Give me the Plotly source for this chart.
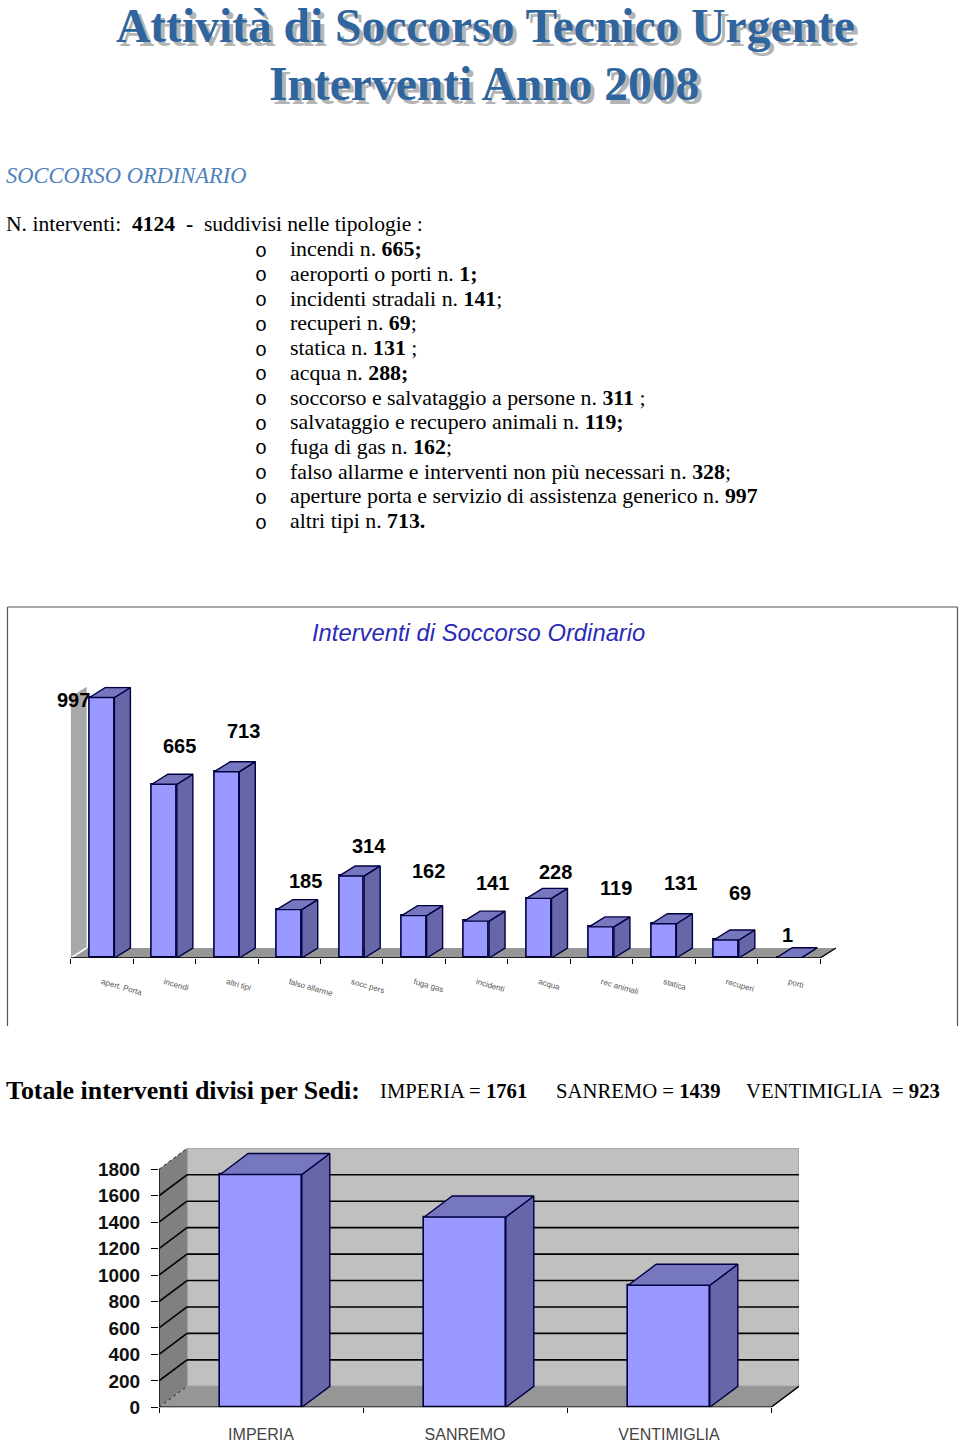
import plotly.graph_objects as go

# ---------- data ----------
title_lines = ["Attività di Soccorso Tecnico Urgente", "Interventi Anno 2008"]
section_title = "SOCCORSO ORDINARIO"
intro_line = "N. interventi:  <b>4124  -</b>  suddivisi nelle tipologie :"
list_items = [
    "incendi n. <b>665;</b>",
    "aeroporti o porti n. <b>1;</b>",
    "incidenti stradali n. <b>141</b>;",
    "recuperi n. <b>69</b>;",
    "statica n. <b>131</b> ;",
    "acqua n. <b>288;</b>",
    "soccorso e salvataggio a persone n. <b>311</b> ;",
    "salvataggio e recupero animali n. <b>119;</b>",
    "fuga di gas n. <b>162</b>;",
    "falso allarme e interventi non più necessari n. <b>328</b>;",
    "aperture porta e servizio di assistenza generico n. <b>997</b>",
    "altri tipi n. <b>713.</b>",
]
chart1_title = "Interventi di Soccorso Ordinario"
types = ["apert. Porta", "incendi", "altri tipi", "falso allarme", "socc pers", "fuga gas",
         "incidenti", "acqua", "rec animali", "statica", "recuperi", "porti"]
type_values = [997, 665, 713, 185, 314, 162, 141, 228, 119, 131, 69, 1]
totals_heading = "Totale interventi divisi per Sedi:"
totals_texts = ["IMPERIA = <b>1761</b>", "SANREMO = <b>1439</b>", "VENTIMIGLIA  = <b>923</b>"]
sedi = ["IMPERIA", "SANREMO", "VENTIMIGLIA"]
sedi_values = [1761, 1439, 923]
sedi_ticks = [0, 200, 400, 600, 800, 1000, 1200, 1400, 1600, 1800]

# ---------- layout helpers (pixel geometry of the page) ----------
W, H = 960, 1442
SERIF = "Liberation Serif"
FRONT, SIDE, TOP, EDGE = "#9999ff", "#6666a8", "#7777c0", "#000040"
fx = lambda p: p / W
fy = lambda p: 1 - p / H

label_dx = [-28, 15, 17, 16, 17, 14, 16, 16, 15, 17, 14, -1]
label_dy = [-3, 38, 41, 29, 30, 45, 38, 26, 39, 41, 47, 23]


def poly_path(pts):
    return "M " + " L ".join(f"{x} {y}" for x, y in pts) + " Z"


def faces(vals, w, dx, dy):
    sx, sy, tx, ty = [], [], [], []
    for i, v in enumerate(vals):
        r, l = i + w / 2, i - w / 2
        sx += [r, r + dx, r + dx, r, r, None]
        sy += [0, dy, v + dy, v, 0, None]
        tx += [l, r, r + dx, l + dx, l, None]
        ty += [v, v, v + dy, v + dy, v, None]
    return sx, sy, tx, ty


fig = go.Figure()
shapes, annos = [], []


def text(x, y, s, size, color="black", family=SERIF, anchor="left", **fontkw):
    annos.append(dict(xref="paper", yref="paper", x=fx(x - 2 if anchor == "left" else x), y=fy(y), text=s,
                      showarrow=False, xanchor=anchor, yanchor="middle", align=anchor,
                      font=dict(family=family, size=size, color=color, **fontkw)))


# ---------- document text ----------
text(485.5, 26, f"<b>{title_lines[0]}</b>", 47.5, "#2f659f", anchor="center", shadow="4px 4px 0 #b4b4b4")
text(484.5, 84, f"<b>{title_lines[1]}</b>", 47.5, "#2f659f", anchor="center", shadow="4px 4px 0 #b4b4b4")
text(6, 176, f"<i>{section_title}</i>", 22.5, "#4f81bd")
text(6, 224, intro_line, 21.6)
for k, item in enumerate(list_items):
    y = 249 + k * 24.75
    text(255, y + 2, "o", 20, family="Liberation Mono")
    text(290, y, item, 21.85)
text(6, 1090, f"<b>{totals_heading}</b>", 25.9)
for x, s in zip([380, 556, 746], totals_texts):
    text(x, 1091, s, 20.7)

# ---------- chart 1 ----------
W1, DX1, DY1 = 0.4, 16 / 62.44, 10 / 0.2613
WALL1 = 1000
n1 = len(types)
L1, R1 = -0.5, n1 - 0.5
fig.add_trace(go.Bar(x=list(range(n1)), y=type_values, width=W1, xaxis="x", yaxis="y", cliponaxis=False,
                     marker=dict(color=FRONT, line=dict(color=EDGE, width=1.6)), showlegend=False))
sx, sy, tx, ty = faces(type_values, W1, DX1, DY1)
for xs, ys, col in ((sx, sy, SIDE), (tx, ty, TOP)):
    fig.add_trace(go.Scatter(x=xs, y=ys, xaxis="x", yaxis="y", mode="lines", fill="toself", fillcolor=col,
                             line=dict(color=EDGE, width=1.4), showlegend=False, cliponaxis=False))
fig.add_trace(go.Scatter(x=[L1, R1, R1 + DX1], y=[0, 0, DY1], xaxis="x", yaxis="y", mode="lines",
                         line=dict(color="black", width=1.4), showlegend=False, cliponaxis=False))
shapes += [
    dict(type="path", xref="x", yref="y", layer="below", line=dict(width=0), fillcolor="#969696",
         path=poly_path([(L1, 0), (R1, 0), (R1 + DX1, DY1), (L1 + DX1, DY1)])),
    dict(type="path", xref="x", yref="y", layer="below", line=dict(width=0), fillcolor="#a8a8a8",
         path=poly_path([(L1, 0), (L1 + DX1, DY1), (L1 + DX1, WALL1 + DY1), (L1, WALL1)])),
    dict(type="line", xref="x", yref="y", layer="between", line=dict(color="white", width=1.5),
         x0=L1, y0=0, x1=L1 + DX1, y1=DY1),
]
for i, (v, ddx, ddy) in enumerate(zip(type_values, label_dx, label_dy)):
    annos.append(dict(xref="x", yref="y", x=i, y=v, text=f"<b>{v}</b>", showarrow=False, xshift=ddx, yshift=ddy,
                      font=dict(family="Liberation Sans", size=20, color="black")))
text(478, 632, f"<i>{chart1_title}</i>", 23.8, "#2a2ab8", family="Liberation Sans", anchor="center")
frame = dict(color="#555555", width=1.2)
shapes += [
    dict(type="line", xref="paper", yref="paper", x0=fx(7.5), x1=fx(7.5), y0=fy(607), y1=fy(1026), line=frame),
    dict(type="line", xref="paper", yref="paper", x0=fx(7.5), x1=fx(957.5), y0=fy(607), y1=fy(607), line=frame),
    dict(type="line", xref="paper", yref="paper", x0=fx(957.5), x1=fx(957.5), y0=fy(607), y1=fy(1026), line=frame),
]

# ---------- chart 2 ----------
W2, DX2, DY2 = 0.4, 28 / 204, 21 / 0.1322
MAX2 = sedi_ticks[-1]
n2 = len(sedi)
L2, R2 = -0.5, n2 - 0.5
fig.add_trace(go.Bar(x=list(range(n2)), y=sedi_values, width=W2, xaxis="x2", yaxis="y2", cliponaxis=False,
                     marker=dict(color=FRONT, line=dict(color=EDGE, width=1.6)), showlegend=False))
sx, sy, tx, ty = faces(sedi_values, W2, DX2, DY2)
for xs, ys, col in ((sx, sy, SIDE), (tx, ty, TOP)):
    fig.add_trace(go.Scatter(x=xs, y=ys, xaxis="x2", yaxis="y2", mode="lines", fill="toself", fillcolor=col,
                             line=dict(color=EDGE, width=1.4), showlegend=False, cliponaxis=False))
fig.add_trace(go.Scatter(x=[L2, L2, None, L2, R2, R2 + DX2], y=[MAX2, 0, None, 0, 0, DY2], xaxis="x2", yaxis="y2",
                         mode="lines", line=dict(color="black", width=1.4), showlegend=False, cliponaxis=False))
shapes += [
    dict(type="path", xref="x2", yref="y2", layer="below", line=dict(color="#8a8a8a", width=1), fillcolor="#c0c0c0",
         path=poly_path([(L2 + DX2, DY2), (R2 + DX2, DY2), (R2 + DX2, MAX2 + DY2), (L2 + DX2, MAX2 + DY2)])),
    dict(type="path", xref="x2", yref="y2", layer="below", line=dict(width=0), fillcolor="#808080",
         path=poly_path([(L2, 0), (L2 + DX2, DY2), (L2 + DX2, MAX2 + DY2), (L2, MAX2)])),
    dict(type="path", xref="x2", yref="y2", layer="below", line=dict(width=0), fillcolor="#969696",
         path=poly_path([(L2, 0), (R2, 0), (R2 + DX2, DY2), (L2 + DX2, DY2)])),
]
for t in sedi_ticks:
    edge = t in (sedi_ticks[0], sedi_ticks[-1])
    line = dict(color="#222222", width=1, dash="dot") if edge else dict(color="black", width=1.6)
    shapes.append(dict(type="line", xref="x2", yref="y2", layer="between", line=line,
                       x0=L2, y0=t, x1=L2 + DX2, y1=t + DY2))
    if not edge:
        shapes.append(dict(type="line", xref="x2", yref="y2", layer="between", line=line,
                           x0=L2 + DX2, y0=t + DY2, x1=R2 + DX2, y1=t + DY2))

# ---------- axes ----------
fig.update_layout(
    template="none",
    width=W, height=H, margin=dict(l=0, r=0, t=0, b=0, pad=0), autosize=False,
    paper_bgcolor="white", plot_bgcolor="rgba(0,0,0,0)", showlegend=False, bargap=0,
    shapes=shapes, annotations=annos,
    xaxis=dict(domain=[fx(70.7), fx(836)], range=[L1, R1 + DX1], showgrid=False, zeroline=False, automargin=False,
               tickmode="array", tickvals=list(range(n1)), ticktext=types, ticks="", tickangle=16,
               ticklabelstandoff=17, tickfont=dict(family="Liberation Sans", size=8, color="#555555"),
               minor=dict(tickmode="array", tickvals=[i - 0.5 for i in range(n1 + 1)], ticks="outside",
                          ticklen=5, tickcolor="black", tickwidth=1), anchor="y"),
    yaxis=dict(domain=[fy(958), fy(958 - 0.2613 * (WALL1 + DY1))], range=[0, WALL1 + DY1], visible=False, anchor="x",
               automargin=False),
    xaxis2=dict(domain=[fx(159), fx(799)], range=[L2, R2 + DX2], showgrid=False, zeroline=False, automargin=False,
                tickmode="array", tickvals=list(range(n2)), ticktext=sedi, ticks="", ticklabelstandoff=16,
                tickfont=dict(family="Liberation Sans", size=16, color="#444444"),
                minor=dict(tickmode="array", tickvals=[i - 0.5 for i in range(n2 + 1)], ticks="outside",
                           ticklen=5, tickcolor="black", tickwidth=1), anchor="y2"),
    yaxis2=dict(domain=[fy(1407.3), fy(1407.3 - 0.1322 * (MAX2 + DY2))], range=[0, MAX2 + DY2], showgrid=False,
                zeroline=False, automargin=False, tickmode="array", tickvals=sedi_ticks, ticks="outside", ticklen=7,
                ticklabelstandoff=7, tickcolor="black",
                tickfont=dict(family="Liberation Sans", size=19, color="#111111", weight="bold"),
                anchor="x2"),
)

fig.write_html("out.html", config={"displayModeBar": False}, post_script="document.body.style.margin='0';")
